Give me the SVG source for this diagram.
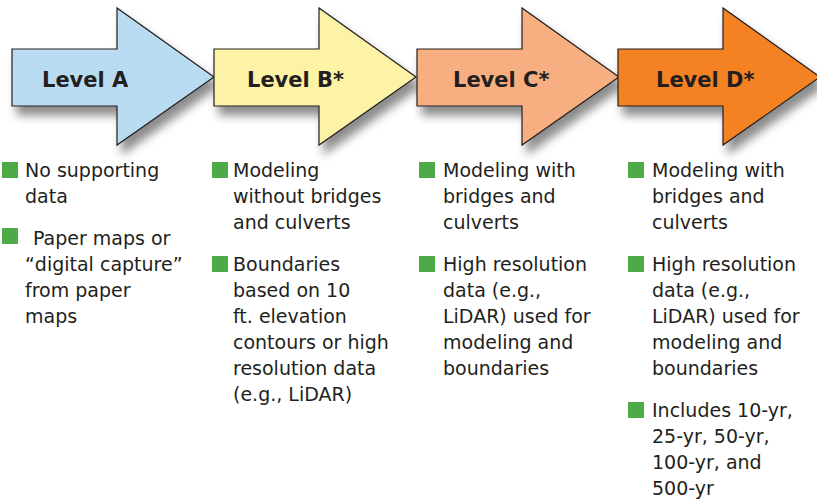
<svg xmlns="http://www.w3.org/2000/svg" width="817" height="502" viewBox="0 0 817 502">
<style>
.arr{stroke:#231f20;stroke-width:1.2;stroke-linejoin:miter;filter:url(#sh)}
.lbl{font-family:"DejaVu Sans","Liberation Sans",sans-serif;font-weight:bold;font-size:21px;fill:#231f20}
.txt{font-family:"DejaVu Sans","Liberation Sans",sans-serif;font-size:19px;fill:#231f20}
.bul{fill:#4dab47}
</style>
<defs>
<filter id="sh" x="-20%" y="-20%" width="150%" height="160%">
<feDropShadow dx="5" dy="9" stdDeviation="5" flood-color="#000" flood-opacity="0.45"/>
</filter>
<path id="arrowShape" d="M0,49 H105 V8 L202,77 L105,145 V106 H0 Z"/>
</defs>
<rect width="817" height="502" fill="#ffffff"/>
<g id="arrows">
<g id="levelA"><use href="#arrowShape" x="12" class="arr" fill="#b9dcf3"/><text class="lbl" x="42" y="87">Level A</text></g>
<g id="levelB"><use href="#arrowShape" x="214" class="arr" fill="#fdf3a7"/><text class="lbl" x="247" y="87">Level B*</text></g>
<g id="levelC"><use href="#arrowShape" x="417" class="arr" fill="#f7ae80"/><text class="lbl" x="453" y="87">Level C*</text></g>
<g id="levelD"><use href="#arrowShape" x="618" class="arr" fill="#f58220"/><text class="lbl" x="656" y="87">Level D*</text></g>
</g>
<g id="colA">
<rect class="bul" x="2" y="162" width="16" height="16"/>
<text class="txt" x="25" y="177">No supporting</text>
<text class="txt" x="25" y="203">data</text>
<rect class="bul" x="2" y="228" width="16" height="16"/>
<text class="txt" x="33" y="245">Paper maps or</text>
<text class="txt" x="25" y="271">“digital capture”</text>
<text class="txt" x="25" y="297">from paper</text>
<text class="txt" x="25" y="323">maps</text>
</g>
<g id="colB">
<rect class="bul" x="212" y="162" width="16" height="16"/>
<text class="txt" x="233" y="177">Modeling</text>
<text class="txt" x="233" y="203">without bridges</text>
<text class="txt" x="233" y="229">and culverts</text>
<rect class="bul" x="212" y="256" width="16" height="16"/>
<text class="txt" x="233" y="271">Boundaries</text>
<text class="txt" x="233" y="297">based on 10</text>
<text class="txt" x="233" y="323">ft. elevation</text>
<text class="txt" x="233" y="349">contours or high</text>
<text class="txt" x="233" y="375">resolution data</text>
<text class="txt" x="233" y="401">(e.g., LiDAR)</text>
</g>
<g id="colC">
<rect class="bul" x="419" y="162" width="16" height="16"/>
<text class="txt" x="443" y="177">Modeling with</text>
<text class="txt" x="443" y="203">bridges and</text>
<text class="txt" x="443" y="229">culverts</text>
<rect class="bul" x="419" y="256" width="16" height="16"/>
<text class="txt" x="443" y="271">High resolution</text>
<text class="txt" x="443" y="297">data (e.g.,</text>
<text class="txt" x="443" y="323">LiDAR) used for</text>
<text class="txt" x="443" y="349">modeling and</text>
<text class="txt" x="443" y="375">boundaries</text>
</g>
<g id="colD">
<rect class="bul" x="628" y="162" width="16" height="16"/>
<text class="txt" x="652" y="177">Modeling with</text>
<text class="txt" x="652" y="203">bridges and</text>
<text class="txt" x="652" y="229">culverts</text>
<rect class="bul" x="628" y="256" width="16" height="16"/>
<text class="txt" x="652" y="271">High resolution</text>
<text class="txt" x="652" y="297">data (e.g.,</text>
<text class="txt" x="652" y="323">LiDAR) used for</text>
<text class="txt" x="652" y="349">modeling and</text>
<text class="txt" x="652" y="375">boundaries</text>
<rect class="bul" x="628" y="402" width="16" height="16"/>
<text class="txt" x="652" y="417">Includes 10-yr,</text>
<text class="txt" x="652" y="443">25-yr, 50-yr,</text>
<text class="txt" x="652" y="469">100-yr, and</text>
<text class="txt" x="652" y="495">500-yr</text>
</g>
</svg>
